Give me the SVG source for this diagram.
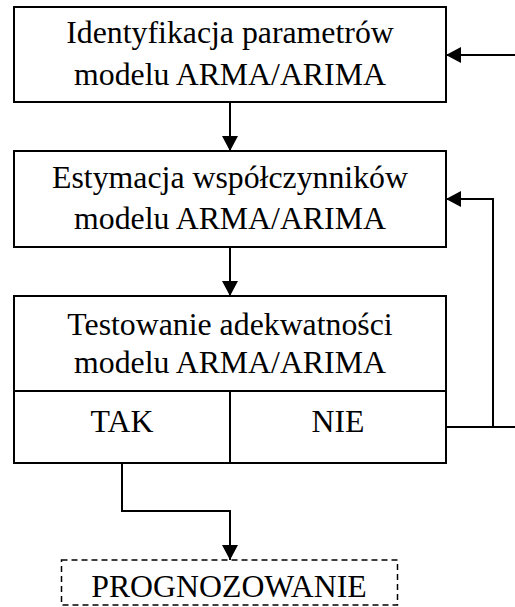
<svg xmlns="http://www.w3.org/2000/svg" width="515" height="607" viewBox="0 0 515 607">
<defs>
<marker id="ah" markerUnits="userSpaceOnUse" markerWidth="16" markerHeight="16" refX="15" refY="8" orient="auto">
<path d="M0,0 L15,8 L0,16 Z" fill="#000"/>
</marker>
<style>
.box{fill:#fff;stroke:#000;stroke-width:2}
.dash{fill:#fff;stroke:#000;stroke-width:1.5;stroke-dasharray:6 4}
.ln{fill:none;stroke:#000;stroke-width:2}
.t{font-family:'Liberation Serif','Times New Roman',serif;font-size:31.8px;fill:#000;text-anchor:middle}
</style>
</defs>
<rect width="515" height="607" fill="#fff"/>
<g id="connectors">
<path class="ln" d="M230,102 V151" marker-end="url(#ah)"/>
<path class="ln" d="M230,247 V296" marker-end="url(#ah)"/>
<path class="ln" d="M515,55 H446" marker-end="url(#ah)"/>
<path class="ln" d="M446,427 H515"/>
<path class="ln" d="M493,427 V199 H446" marker-end="url(#ah)"/>
<path class="ln" d="M122,463 V511 H230 V560" marker-end="url(#ah)"/>
</g>
<g id="identyfikacja">
<rect class="box" x="14" y="7" width="432" height="95"/>
<text class="t" x="230" y="43">Identyfikacja parametrów</text>
<text class="t" x="230" y="85">modelu ARMA/ARIMA</text>
</g>
<g id="estymacja">
<rect class="box" x="14" y="151" width="432" height="96"/>
<text class="t" x="230" y="188">Estymacja współczynników</text>
<text class="t" x="230" y="229">modelu ARMA/ARIMA</text>
</g>
<g id="testowanie">
<rect class="box" x="14" y="296" width="432" height="167"/>
<line class="ln" x1="14" y1="391" x2="446" y2="391"/>
<line class="ln" x1="230" y1="391" x2="230" y2="463"/>
<text class="t" x="230" y="335">Testowanie adekwatności</text>
<text class="t" x="230" y="373">modelu ARMA/ARIMA</text>
<text class="t" x="122" y="432">TAK</text>
<text class="t" x="338" y="432">NIE</text>
</g>
<g id="prognozowanie">
<rect class="dash" x="61.5" y="560" width="336" height="45"/>
<text class="t" x="229" y="597">PROGNOZOWANIE</text>
</g>
</svg>
